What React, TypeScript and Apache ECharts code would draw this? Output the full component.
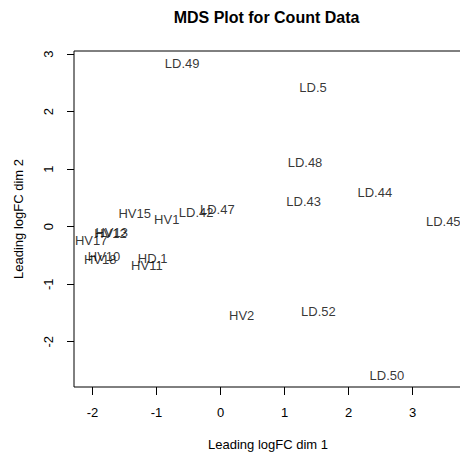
import React, { useEffect, useRef } from "react";
import * as echarts from "echarts";

const sampleNames = [
  "LD.49", "LD.5", "LD.48", "LD.44", "LD.43", "LD.45", "LD.47", "LD.42",
  "HV1", "HV15", "HV12", "HV13", "HV17", "HV10", "HV18", "HD.1", "HV11",
  "HV2", "LD.52", "LD.50",
];
const dim1 = [
  -0.6, 1.445, 1.32, 2.41, 1.3, 3.48, -0.05, -0.38,
  -0.84, -1.34, -1.72, -1.7, -2.02, -1.82, -1.88, -1.06, -1.15,
  0.33, 1.53, 2.6,
];
const dim2 = [
  2.83, 2.42, 1.11, 0.59, 0.43, 0.09, 0.3, 0.24,
  0.12, 0.23, -0.12, -0.1, -0.24, -0.52, -0.57, -0.55, -0.68,
  -1.54, -1.48, -2.59,
];
const xTicks = [-2, -1, 0, 1, 2, 3];
const yTicks = [-2, -1, 0, 1, 2, 3];

const FONT = "'Liberation Sans', Arial, Helvetica, sans-serif";

export default function App() {
  const ref = useRef<HTMLDivElement>(null);
  useEffect(() => {
    document.body.style.margin = "0";
    const chart = echarts.init(ref.current!, null, { renderer: "svg" });
    const data = sampleNames.map((n, i) => ({ name: n, value: [dim1[i], dim2[i]] }));
    chart.setOption({
      animation: false,
      textStyle: { fontFamily: FONT },
      grid: {
        left: 74,
        right: -2,
        top: 51,
        bottom: 66,
        containLabel: false,
        outerBoundsMode: "none",
        show: true,
        borderColor: "#000",
        borderWidth: 1,
        backgroundColor: "transparent",
      },
      graphic: [
        {
          type: "text",
          x: 266.5,
          y: 17,
          style: {
            text: "MDS Plot for Count Data",
            font: `bold 16px ${FONT}`,
            fill: "#000",
            textAlign: "center",
            textVerticalAlign: "middle",
          },
        },
      ],
      xAxis: {
        type: "value",
        min: -2.289,
        max: 3.773,
        name: "Leading logFC dim 1",
        nameLocation: "middle",
        nameGap: 51,
        nameTextStyle: { fontSize: 13, color: "#000", fontFamily: FONT },
        splitLine: { show: false },
        axisLine: { show: false, onZero: false },
        axisTick: {
          show: true,
          length: 8,
          customValues: xTicks,
          lineStyle: { color: "#000", width: 1 },
        },
        axisLabel: {
          customValues: xTicks,
          fontSize: 13,
          color: "#000",
          margin: 19,
          fontFamily: FONT,
        },
      },
      yAxis: {
        type: "value",
        min: -2.788,
        max: 3.056,
        name: "Leading logFC dim 2",
        nameLocation: "middle",
        nameGap: 49,
        nameRotate: 90,
        nameTextStyle: { fontSize: 13, color: "#000", fontFamily: FONT },
        splitLine: { show: false },
        axisLine: { show: false, onZero: false },
        axisTick: {
          show: true,
          length: 7,
          customValues: yTicks,
          lineStyle: { color: "#000", width: 1 },
        },
        axisLabel: {
          customValues: yTicks,
          rotate: 90,
          fontSize: 13,
          color: "#000",
          margin: 19,
          fontFamily: FONT,
        },
      },
      series: [
        {
          type: "scatter",
          data,
          symbol: "circle",
          symbolSize: 1,
          itemStyle: { color: "rgba(0,0,0,0)" },
          silent: true,
          label: {
            show: true,
            position: "inside",
            formatter: (p: any) => p.name,
            fontSize: 13,
            color: "#000",
            fontFamily: FONT,
          },
        },
      ],
    });
    return () => chart.dispose();
  }, []);
  return <div ref={ref} style={{ width: 460, height: 453 }} />;
}
